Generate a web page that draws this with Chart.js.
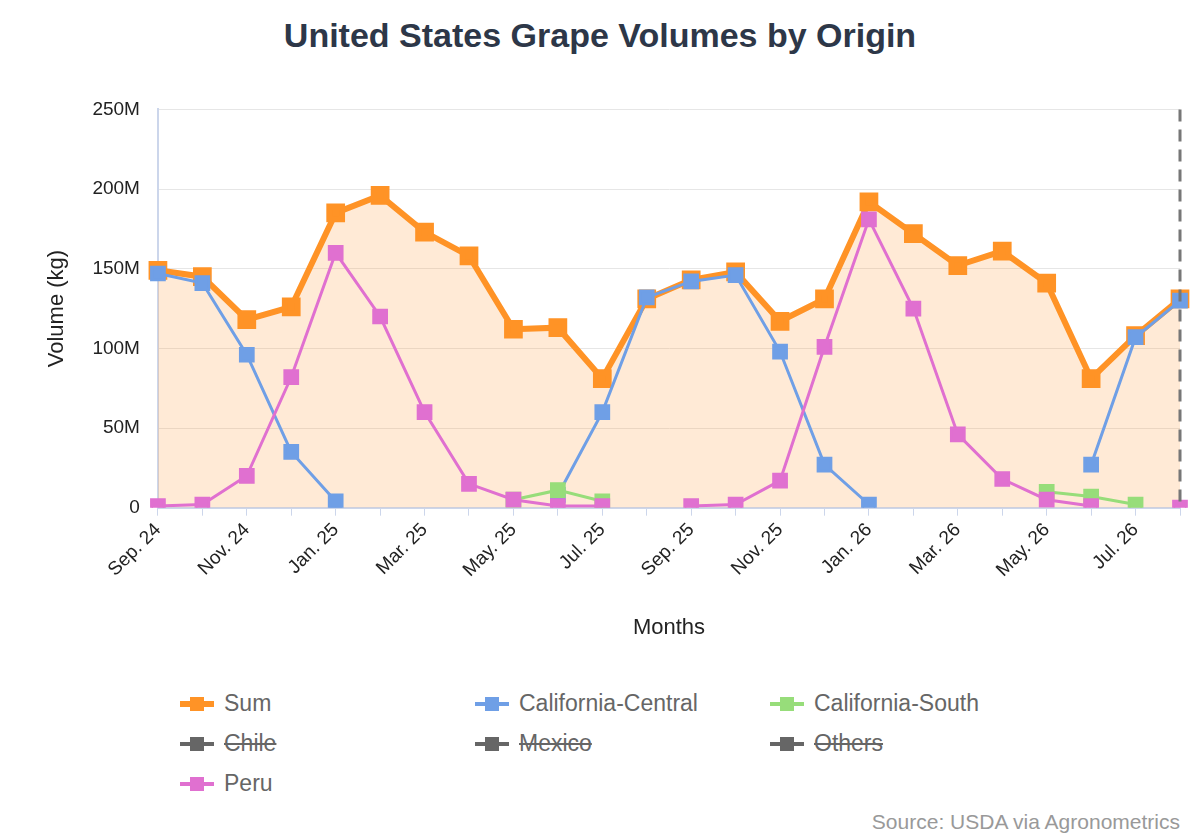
<!DOCTYPE html>
<html><head><meta charset="utf-8">
<script src="https://cdn.jsdelivr.net/npm/chart.js@4"></script>
<style>
body{margin:0;background:#fff;font-family:"Helvetica Neue",Arial,"Liberation Sans",sans-serif;}
#wrap{width:1200px;height:840px;position:relative;}
h1{margin:0;position:absolute;top:16px;width:1200px;text-align:center;font-size:34px;color:#2d3748;font-weight:bold;}
#cv{position:absolute;left:0;top:80px;}
#legend{position:absolute;left:180px;top:690px;display:grid;grid-template-columns:295px 295px 295px;row-gap:13px;font-size:23px;color:#666;}
#legend div{display:flex;align-items:center;cursor:pointer;}
#legend .mk{position:relative;width:34px;height:16px;margin-right:10px;}
#legend .ln{position:absolute;left:0;right:0;top:6px;height:4px;}
#legend .sq{position:absolute;left:10px;top:1px;width:14px;height:14px;}
#legend .off span.t{text-decoration:line-through;}
#src{position:absolute;right:20px;bottom:6px;font-size:21px;color:#999;}
</style></head>
<body><div id="wrap">
<h1>United States Grape Volumes by Origin</h1>
<canvas id="cv" width="1200" height="574"></canvas>
<div id="legend"></div>
<div id="src">Source: USDA via Agronometrics</div>
</div>
<script>
const months = ["Sep. 24","Oct. 24","Nov. 24","Dec. 24","Jan. 25","Feb. 25","Mar. 25","Apr. 25","May. 25","Jun. 25","Jul. 25","Aug. 25",
  "Sep. 25","Oct. 25","Nov. 25","Dec. 25","Jan. 26","Feb. 26","Mar. 26","Apr. 26","May. 26","Jun. 26","Jul. 26","Aug. 26"];
const sum = [149,145,118,126,185,196,173,158,112,113,81,131,143,148,117,131,192,172,152,161,141,81,108,131];
const calCentral = [147,141,96,35,4,null,null,null,null,8,60,132,142,146,98,27,2,null,null,null,null,27,107,130];
const calSouth = [null,null,null,null,null,null,null,null,5,11,4,null,null,null,null,null,null,null,null,null,10,7,2,null];
const peru = [1,2,20,82,160,120,60,15,5,1,1,null,1,2,17,101,181,125,46,18,5,1,null,0];
const empty = months.map(() => null);
const M = 1e6;
const scaleM = a => a.map(v => v == null ? null : v * M);

function ds(label, data, color, extra) {
  return Object.assign({label, data: scaleM(data), borderColor: color, backgroundColor: color,
    borderWidth: 3, pointStyle: "rect", pointRadius: 9, pointHoverRadius: 10, tension: 0, spanGaps: false, fill: false}, extra || {});
}
const datasets = [
  ds("Sum", sum, "#ff9326", {borderWidth: 6, fill: "origin", backgroundColor: "rgba(255,160,70,0.22)", pointBackgroundColor: "#ff9326", order: 5}),
  ds("California-Central", calCentral, "#6f9fe6", {order: 2}),
  ds("California-South", calSouth, "#97dd7a", {order: 1}),
  ds("Chile", empty, "#666666", {hidden: true}),
  ds("Mexico", empty, "#666666", {hidden: true}),
  ds("Others", empty, "#666666", {hidden: true}),
  ds("Peru", peru, "#e070d0", {order: 0})
];

const dashLine = {
  id: "dashLine",
  afterDatasetsDraw(c) {
    const x = c.scales.x.getPixelForValue(months.length - 1), a = c.chartArea, ctx = c.ctx;
    ctx.save(); ctx.strokeStyle = "#777"; ctx.lineWidth = 3; ctx.setLineDash([12, 8]);
    ctx.beginPath(); ctx.moveTo(x, a.top); ctx.lineTo(x, a.bottom); ctx.stroke(); ctx.restore();
  }
};

const chart = new Chart(document.getElementById("cv"), {
  type: "line",
  data: {labels: months, datasets},
  plugins: [dashLine],
  options: {
    responsive: false, animation: false,
    layout: {padding: {left: 40, right: 20, top: 7, bottom: 9}},
    plugins: {legend: {display: false}, title: {display: false}},
    scales: {
      x: {
        offset: false,
        grid: {drawOnChartArea: false, drawTicks: true, tickLength: 8, color: "#ccd6eb"},
        border: {color: "#ccd6eb", width: 2},
        ticks: {autoSkip: false, maxRotation: 45, minRotation: 45, color: "#222", font: {size: 19},
          callback: (v, i) => i % 2 === 0 ? months[i] : ""},
        title: {display: true, text: "Months", color: "#222", font: {size: 22}, padding: {top: 30}}
      },
      y: {
        min: 0, max: 250 * M,
        grid: {color: "#e6e6e6", drawTicks: false},
        border: {color: "#ccd6eb", width: 2},
        ticks: {stepSize: 50 * M, padding: 18, color: "#222", font: {size: 19},
          callback: v => v === 0 ? "0" : (v / M) + "M"},
        title: {display: true, text: "Volume (kg)", color: "#222", font: {size: 22}}
      }
    }
  }
});

const leg = document.getElementById("legend");
datasets.forEach((d, i) => {
  const el = document.createElement("div");
  if (d.hidden) el.className = "off";
  const w = d.label === "Sum" ? 6 : 4;
  el.innerHTML = `<span class="mk"><span class="ln" style="background:${d.borderColor};height:${w}px;top:${8 - w / 2}px"></span><span class="sq" style="background:${d.borderColor}"></span></span><span class="t">${d.label}</span>`;
  el.onclick = () => { chart.setDatasetVisibility(i, !chart.isDatasetVisible(i)); el.classList.toggle("off"); chart.update(); };
  leg.appendChild(el);
});
</script>
</body></html>
